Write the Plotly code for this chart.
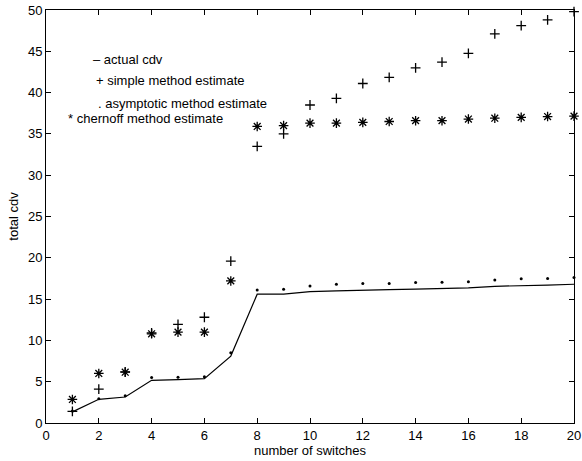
import plotly.graph_objects as go

switches = list(range(1, 21))
actual_cdv = [1.35, 2.87, 3.15, 5.17, 5.25, 5.37, 8.1, 15.6, 15.6, 15.9,
              16.0, 16.1, 16.15, 16.2, 16.3, 16.35, 16.55, 16.6, 16.7, 16.8]
simple_est = [1.4, 4.1, 6.2, 10.9, 11.95, 12.8, 19.6, 33.5, 35.0, 38.5,
              39.3, 41.1, 41.85, 43.0, 43.7, 44.75, 47.1, 48.1, 48.8, 49.8]
asymptotic_est = [1.45, 2.95, 3.3, 5.5, 5.55, 5.6, 8.5, 16.1, 16.2, 16.6,
                  16.8, 16.9, 16.9, 17.0, 17.05, 17.1, 17.3, 17.45, 17.5, 17.6]
chernoff_est = [2.85, 6.0, 6.15, 10.8, 11.0, 11.0, 17.2, 35.9, 36.0, 36.3,
                36.3, 36.4, 36.5, 36.6, 36.6, 36.8, 36.9, 37.0, 37.1, 37.15]

legend_texts = ["\u2013 actual cdv", "+ simple method estimate",
                ". asymptotic method estimate", "* chernoff method estimate"]
legend_x = [1.69, 1.8, 1.88, 0.74]
legend_y = [44.05, 41.5, 38.7, 36.9]

FONT = "Liberation Sans, Arial, sans-serif"

fig = go.Figure()
fig.add_trace(go.Scatter(x=switches, y=actual_cdv, mode="lines",
                         line=dict(color="black", width=1.2), cliponaxis=False))
fig.add_trace(go.Scatter(x=switches, y=simple_est, mode="markers",
                         marker=dict(symbol="cross-thin", size=7, color="black",
                                     line=dict(color="black", width=1.3)),
                         cliponaxis=False))
fig.add_trace(go.Scatter(x=switches, y=asymptotic_est, mode="markers",
                         marker=dict(symbol="circle", size=3, color="black"),
                         cliponaxis=False))
fig.add_trace(go.Scatter(x=switches, y=chernoff_est, mode="markers",
                         marker=dict(symbol="asterisk-open", size=8, color="black",
                                     line=dict(color="black", width=1.3)),
                         cliponaxis=False))

for t, lx, ly in zip(legend_texts, legend_x, legend_y):
    fig.add_annotation(x=lx, y=ly, xref="x", yref="y", text=t, showarrow=False,
                       xanchor="left", yanchor="middle",
                       font=dict(family=FONT, size=13, color="black"))

axis_common = dict(showline=True, linecolor="black", linewidth=1, mirror="ticks",
                   ticks="inside", ticklen=5, tickcolor="black", showgrid=False,
                   zeroline=False, automargin=False,
                   tickfont=dict(family=FONT, size=13, color="black"))

fig.update_layout(
    width=582, height=461,
    margin=dict(l=46, r=8, t=10, b=38, pad=0),
    paper_bgcolor="white", plot_bgcolor="white",
    showlegend=False,
    font=dict(family=FONT, size=13, color="black"),
    xaxis=dict(range=[0, 20], dtick=2, tick0=0,
               title=dict(text="number of switches", font=dict(family=FONT, size=13), standoff=4),
               **axis_common),
    yaxis=dict(range=[0, 50], dtick=5, tick0=0,
               title=dict(text="total cdv", font=dict(family=FONT, size=13), standoff=6),
               **axis_common),
)

fig.write_html("out.html", config={"displayModeBar": False},
               post_script="document.body.style.margin='0';")
